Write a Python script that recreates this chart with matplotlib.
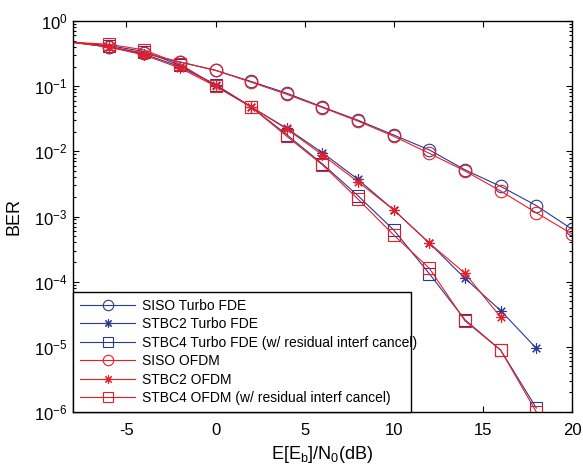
import numpy as np
import matplotlib
matplotlib.use("Agg")
import matplotlib.pyplot as plt
from matplotlib.lines import Line2D
from matplotlib.ticker import LogLocator, NullFormatter

plt.rcParams.update({
    'font.family': 'Liberation Sans',
    'mathtext.fontset': 'custom',
    'mathtext.rm': 'Liberation Sans',
    'mathtext.default': 'regular',
    'axes.unicode_minus': False,
})

# Eb/N0 grid (dB); the first point sits on the left edge, no marker there
snr = [-8, -6, -4, -2, 0, 2, 4, 6, 8, 10, 12, 14, 16, 18, 20]

siso_fde = [0.48, 0.40, 0.32, 0.235, 0.175, 0.118, 0.078, 0.048, 0.030,
            0.0178, 0.0105, 0.0052, 0.0029, 0.00147, 0.00064]
stbc2_fde = [0.47, 0.40, 0.31, 0.20, 0.105, 0.048, 0.0225, 0.0095, 0.0037,
             0.00126, 0.00039, 0.000112, 3.6e-5, 9.5e-6]
stbc4_fde = [0.47, 0.42, 0.34, 0.21, 0.105, 0.048, 0.018, 0.0064, 0.00207,
             0.00062, 0.000132, 2.6e-5, 8.9e-6, 1.15e-6]
siso_ofdm = [0.47, 0.40, 0.32, 0.235, 0.175, 0.115, 0.075, 0.047, 0.029,
             0.017, 0.0093, 0.0050, 0.00246, 0.00114, 0.00054]
stbc2_ofdm = [0.47, 0.40, 0.30, 0.19, 0.10, 0.048, 0.022, 0.0088, 0.0034,
              0.00126, 0.00039, 0.000134, 2.84e-5]
stbc4_ofdm = [0.47, 0.44, 0.36, 0.22, 0.10, 0.048, 0.017, 0.0062, 0.00184,
              0.00052, 0.00016, 2.5e-5, 8.9e-6, 1.0e-6]

labels = [
    'SISO Turbo FDE',
    'STBC2 Turbo FDE',
    'STBC4 Turbo FDE (w/ residual interf cancel)',
    'SISO OFDM',
    'STBC2 OFDM',
    'STBC4 OFDM (w/ residual interf cancel)',
]

yticks = [1e-6, 1e-5, 1e-4, 1e-3, 1e-2, 1e-1, 1]

BLUE = '#2B3990'
RED = '#EC1C24'
ASTER = (8, 2, 0)

series = [
    (siso_fde, BLUE, 'o'),
    (stbc2_fde, BLUE, ASTER),
    (stbc4_fde, BLUE, 's'),
    (siso_ofdm, RED, 'o'),
    (stbc2_ofdm, RED, ASTER),
    (stbc4_ofdm, RED, 's'),
]

fig = plt.figure(figsize=(5.83, 4.69), dpi=100)
ax = fig.add_axes([0.1252, 0.1215, 0.8559, 0.8337])

handles = []
for (vals, col, mk), lab in zip(series, labels):
    x = snr[:len(vals)]
    ms = 7.5 if mk == ASTER else 9
    ax.plot(x, vals, color=col, lw=0.8, marker=mk, ms=ms, mfc='none',
            mec=col, mew=0.8, markevery=slice(1, None))
    handles.append(Line2D([], [], color=col, lw=0.8, marker=mk,
                          ms=ms - 1.5, mfc='none', mec=col, mew=0.8))

ax.set_yscale('log')
ax.set_xlim(-8, 20)
ax.set_ylim(1e-6, 1)
ax.set_xticks([-5, 0, 5, 10, 15, 20])
ax.set_yticks(yticks)
ax.yaxis.set_minor_locator(LogLocator(base=10, subs=np.arange(2, 10), numticks=20))
ax.yaxis.set_minor_formatter(NullFormatter())
ax.tick_params(which='both', direction='in', top=True, right=True,
               labelsize=12, width=0.8)
ax.tick_params(which='major', length=4)
ax.tick_params(which='minor', length=2)
ax.tick_params(axis='x', pad=8)
ax.tick_params(axis='y', pad=4)
for s in ax.spines.values():
    s.set_linewidth(1.0)

ax.set_xlabel(r'E[E$_b$]/N$_0$(dB)', fontsize=13, labelpad=4)
ax.set_ylabel('BER', fontsize=13, labelpad=8)

leg = ax.legend(handles, labels, loc='lower left',
                bbox_to_anchor=(0, 0, 0.677, 0.302), mode='expand',
                borderaxespad=0, fontsize=10, numpoints=1, handlelength=4,
                handletextpad=0.5, labelspacing=0.32, borderpad=0.5,
                fancybox=False, framealpha=1, edgecolor='black')
leg.get_frame().set_linewidth(1.0)

fig.savefig('out.png', dpi=100)
